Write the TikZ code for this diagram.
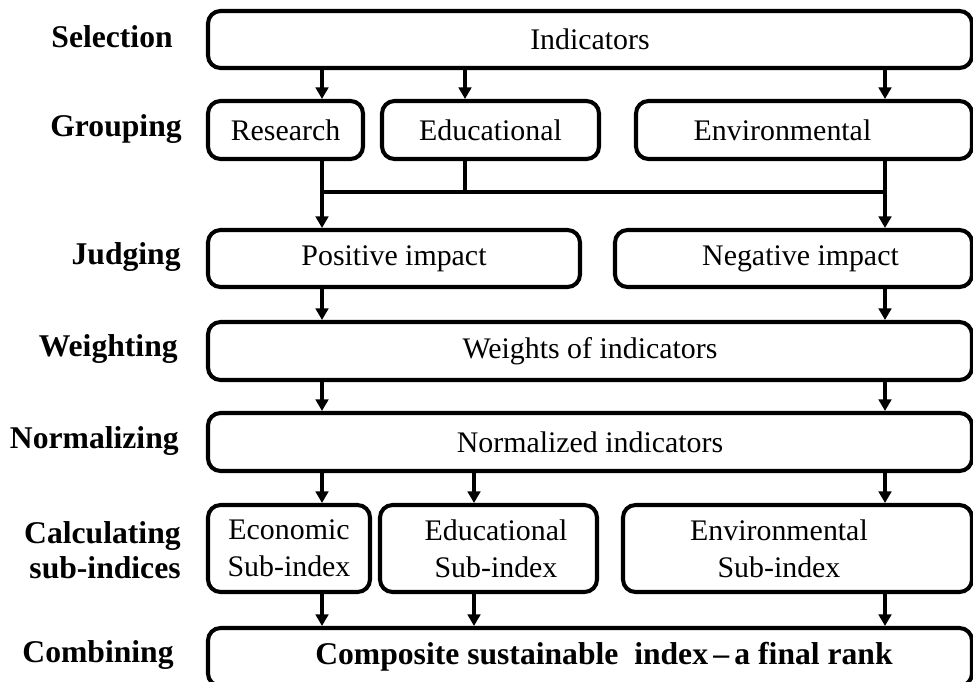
\documentclass[tikz,border=0pt]{standalone}
\usepackage{fontspec}
\setmainfont{Liberation Serif}
\usetikzlibrary{arrows.meta,positioning}

\begin{document}
\begin{tikzpicture}[>={Triangle[length=2.3mm,width=2.5mm]},
bx/.style={draw,line width=2.3pt,rounded corners=2.5mm,inner sep=0pt,align=center,
  font=\fontsize{17}{21}\selectfont},
ar/.style={->,line width=1.9pt}, ln/.style={line width=1.9pt},
lab/.style={anchor=east,align=right,inner sep=0pt,font=\fontsize{18}{20}\selectfont\bfseries}]
\useasboundingbox (0,0) rectangle (19.46,-13.62);
\clip (0,0) rectangle (19.46,-13.62);
% columns for the arrows and the joining line
\coordinate (colL) at (6.44,0); \coordinate (colM) at (9.30,0);
\coordinate (colN) at (9.48,0); \coordinate (colR) at (17.70,0);
\coordinate (jn) at (0,-3.84);
% stage names
\foreach \n/\x/\y/\t in {sel/3.46/-0.74/Selection, grp/3.64/-2.58/Grouping,
  jdg/3.62/-5.14/Judging, wgt/3.56/-6.98/Weighting, nrz/3.58/-8.82/Normalizing,
  clc/3.62/-11.0/{Calculating\\sub-indices}, cmb/3.48/-13.10/Combining}
  \node[lab] (\n) at (\x,\y) {\t};
% boxes
\node[bx,minimum width=15.28cm,minimum height=1.14cm] (ind) at (11.80,-0.79) {Indicators};
\node[bx,minimum width=3.10cm,minimum height=1.16cm] (res) at (5.71,-2.60) {Research};
\node[bx,minimum width=4.34cm,minimum height=1.16cm] (edu) at (9.81,-2.60) {Educational};
\node[bx,minimum width=6.72cm,minimum height=1.16cm] (env) at (16.08,-2.60)
  {\hspace*{-0.86cm}Environmental};
\node[bx,minimum width=7.44cm,minimum height=1.14cm] (pos) at (7.88,-5.17) {Positive impact};
\node[bx,minimum width=7.14cm,minimum height=1.14cm] (neg) at (15.87,-5.17)
  {\hspace*{0.28cm}Negative impact};
\node[bx,minimum width=15.28cm,minimum height=1.16cm] (wts) at (11.80,-7.02) {Weights of indicators};
\node[bx,minimum width=15.28cm,minimum height=1.16cm] (nrm) at (11.80,-8.84) {Normalized indicators};
\node[bx,minimum width=3.24cm,minimum height=1.74cm] (eco) at (5.78,-10.97) {Economic\\Sub-index};
\node[bx,minimum width=4.34cm,minimum height=1.74cm] (edus) at (9.77,-10.97)
  {\hspace*{0.30cm}Educational\\\hspace*{0.30cm}Sub-index};
\node[bx,minimum width=6.98cm,minimum height=1.74cm] (envs) at (15.95,-10.97)
  {\hspace*{-0.74cm}Environmental\\\hspace*{-0.74cm}Sub-index};
\node[bx,minimum width=15.28cm,minimum height=1.16cm,font=\fontsize{18}{21}\selectfont\bfseries]
  (cmp) at (11.80,-13.14) {\hspace*{0.56cm}Composite sustainable\ \ index\,--\,a final rank};
% connectors
\draw[ar] (ind.south -| colL) -- (res.north -| colL);
\draw[ar] (ind.south -| colM) -- (edu.north -| colM);
\draw[ar] (ind.south -| colR) -- (env.north -| colR);
\draw[ln] (edu.south -| colM) -- (jn -| colM);
\draw[ln] (jn -| colL) -- (jn -| colR);
\draw[ar] (res.south -| colL) -- (pos.north -| colL);
\draw[ar] (env.south -| colR) -- (neg.north -| colR);
\draw[ar] (pos.south -| colL) -- (wts.north -| colL);
\draw[ar] (neg.south -| colR) -- (wts.north -| colR);
\foreach \c in {colL,colR} \draw[ar] (wts.south -| \c) -- (nrm.north -| \c);
\draw[ar] (nrm.south -| colL) -- (eco.north -| colL);
\draw[ar] (nrm.south -| colN) -- (edus.north -| colN);
\draw[ar] (nrm.south -| colR) -- (envs.north -| colR);
\draw[ar] (eco.south -| colL) -- (cmp.north -| colL);
\draw[ar] (edus.south -| colN) -- (cmp.north -| colN);
\draw[ar] (envs.south -| colR) -- (cmp.north -| colR);
\end{tikzpicture}
\end{document}
